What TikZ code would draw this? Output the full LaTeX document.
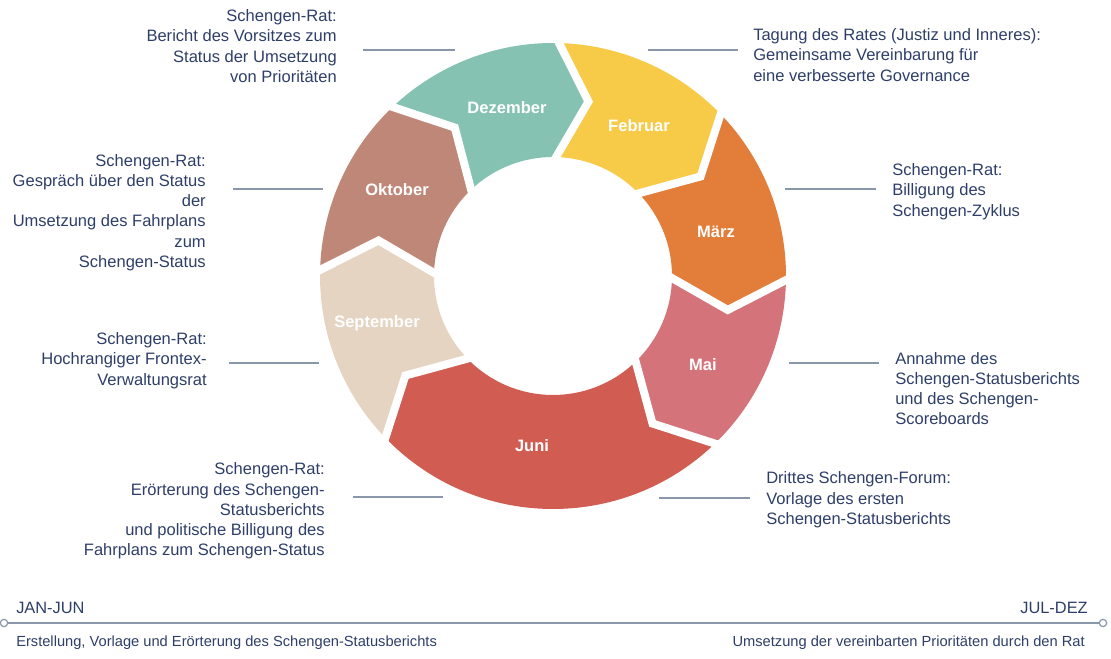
\documentclass[tikz,border=0pt]{standalone}
\usepackage{fontspec}
\setmainfont{Liberation Sans}
\definecolor{txt}{RGB}{46,62,104}
\definecolor{lnc}{RGB}{138,150,170}
\definecolor{cdez}{RGB}{133,194,178}
\definecolor{cfeb}{RGB}{247,202,72}
\definecolor{cmar}{RGB}{226,126,58}
\definecolor{cmai}{RGB}{212,115,122}
\definecolor{cjun}{RGB}{208,92,82}
\definecolor{csep}{RGB}{229,212,193}
\definecolor{cokt}{RGB}{191,135,120}
\newcommand\ringseg[3]{%
  \fill[#1] (#2:233) arc[start angle=#2,end angle=#3,radius=233]
    -- ({#3-10}:178) -- (#3:119)
    arc[start angle=#3,end angle=#2,radius=119]
    -- ({#2-10}:178) -- cycle;}
\newcommand\ringgap[1]{%
  \draw[white,line width=6pt,shorten <=-10pt,shorten >=-10pt] (#1:119) -- ({#1-10}:178) -- (#1:233);}
\begin{document}
\begin{tikzpicture}[x=0.75pt,y=0.75pt,
  seglbl/.style={text=white,font=\fontsize{12.4}{15}\selectfont\bfseries,inner sep=0},
  lbl/.style={text=txt,font=\fontsize{12.4}{15.2}\selectfont,inner sep=0},
  lbll/.style={lbl,anchor=east,align=right},
  lblr/.style={lbl,anchor=west,align=left},
  period/.style={text=txt,font=\fontsize{12.3}{14}\selectfont,inner sep=0},
  small/.style={text=txt,font=\fontsize{11}{13}\selectfont,inner sep=0},
  conn/.style={draw=lnc,line width=1pt},
  tline/.style={draw=lnc,line width=1.4pt},
  tdot/.style={circle,draw=lnc,fill=white,line width=0.9pt,minimum size=5.5pt,inner sep=0}]
\useasboundingbox (0,0) rectangle (1111,659);
\begin{scope}[shift={(553,383)}]
  \ringseg{cdez}{133.5}{88.5}
  \ringseg{cfeb}{88.5}{44}
  \ringseg{cmar}{44}{-1}
  \ringseg{cmai}{-1}{-46}
  \ringseg{cjun}{-46}{-136}
  \ringseg{csep}{-136}{-181.5}
  \ringseg{cokt}{178.5}{133.5}
  \ringgap{88.5}
  \ringgap{44}
  \ringgap{-1}
  \ringgap{-46}
  \ringgap{-136}
  \ringgap{178.5}
  \ringgap{133.5}
\end{scope}
\node[seglbl] (dez) at (507,551) {Dezember};
\node[seglbl] (feb) at (639,533) {Februar};
\node[seglbl] (mar) at (716,427) {März};
\node[seglbl] (mai) at (703,294) {Mai};
\node[seglbl] (jun) at (532,213) {Juni};
\node[seglbl] (sep) at (377,336) {September};
\node[seglbl] (okt) at (397,469) {Oktober};

\node[lbll] (l1) at (337,613) {Schengen-Rat:\\Bericht des Vorsitzes zum\\Status der Umsetzung\\von Prioritäten};
\node[lblr] (r1) at (753,604) {Tagung des Rates (Justiz und Inneres):\\Gemeinsame Vereinbarung für\\eine verbesserte Governance};
\node[lbll] (l2) at (206,446.5) {Schengen-Rat:\\Gespräch über den Status\\der\\Umsetzung des Fahrplans\\zum\\Schengen-Status};
\node[lblr] (r2) at (892,467.5) {Schengen-Rat:\\Billigung des\\Schengen-Zyklus};
\node[lbll] (l3) at (207,298.5) {Schengen-Rat:\\Hochrangiger Frontex-\\Verwaltungsrat};
\node[lblr] (r3) at (895,270.5) {Annahme des\\Schengen-Statusberichts\\und des Schengen-\\Scoreboards};
\node[lbll] (l4) at (325,148) {Schengen-Rat:\\Erörterung des Schengen-\\Statusberichts\\und politische Billigung des\\Fahrplans zum Schengen-Status};
\node[lblr] (r4) at (766,159) {Drittes Schengen-Forum:\\Vorlage des ersten\\Schengen-Statusberichts};

\coordinate (l1a) at (363,609); \coordinate (l1b) at (455,609);
\coordinate (r1a) at (648,609); \coordinate (r1b) at (738,609);
\coordinate (l2a) at (233,470); \coordinate (l2b) at (323,470);
\coordinate (r2a) at (785,470); \coordinate (r2b) at (876,470);
\coordinate (l3a) at (229,296); \coordinate (l3b) at (319,296);
\coordinate (r3a) at (789,296); \coordinate (r3b) at (879,296);
\coordinate (l4a) at (353,162); \coordinate (l4b) at (443,162);
\coordinate (r4a) at (659,161); \coordinate (r4b) at (750,161);
\draw[conn] (l1a) -- (l1b);
\draw[conn] (r1a) -- (r1b);
\draw[conn] (l2a) -- (l2b);
\draw[conn] (r2a) -- (r2b);
\draw[conn] (l3a) -- (l3b);
\draw[conn] (r3a) -- (r3b);
\draw[conn] (l4a) -- (l4b);
\draw[conn] (r4a) -- (r4b);

\node[tdot] (tl) at (4,36) {};
\node[tdot] (tr) at (1103,36) {};
\draw[tline] (tl) -- (tr);
\node[period,anchor=west] (jan) at (16,51) {JAN-JUN};
\node[period,anchor=east] (jul) at (1088,51) {JUL-DEZ};
\node[small,anchor=west] (b1) at (16,16) {Erstellung, Vorlage und Erörterung des Schengen-Statusberichts};
\node[small,anchor=east] (b2) at (1085,16) {Umsetzung der vereinbarten Prioritäten durch den Rat};
\end{tikzpicture}
\end{document}
